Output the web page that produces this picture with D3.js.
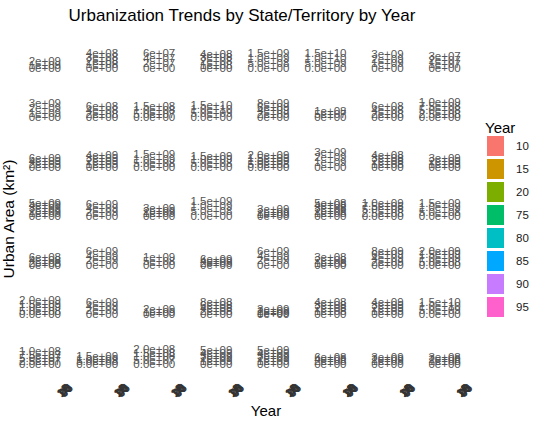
<!DOCTYPE html>
<html>
<head>
<meta charset="utf-8">
<script src="https://cdn.jsdelivr.net/npm/d3@7"></script>
<style>
  body { margin: 0; background: #fff; }
  svg { font-family: "Liberation Sans", Arial, sans-serif; }
</style>
</head>
<body>
<div id="chart"></div>
<script>
// legend / x values
const years = [10, 15, 20, 75, 80, 85, 90, 95];
const yearColors = ["#F8766D", "#CD9600", "#7CAE00", "#00BE67", "#00BFC4", "#00A9FF", "#C77CFF", "#FF61CC"];

// largest urban area per facet (km2), read row by row, 8 facets per row
const peakArea = [
    4.3e9, 4.15e8, 6.2e7, 4.3e8, 1.56e9, 1.56e10, 3.2e9, 3.8e7,
    3.2e9, 8.4e8, 2.1e8, 1.9e10, 8.6e9, 2.3e8, 8.4e8, 1.0e9,
    1.05e10, 5.1e9, 1.9e9, 2.1e9, 2.55e9, 3.2e9, 5.1e8, 5.25e9,
    5.8e9, 7.6e9, 6.0e9, 1.6e9, 7.0e9, 5.8e8, 1.17e9, 1.75e9,
    1.2e9, 6.5e9, 2.0e9, 1.4e10, 6.5e9, 6.0e8, 8.6e9, 2.15e9,
    2.15e9, 7.6e9, 5.6e9, 1.02e9, 8.4e9, 5.1e8, 5.1e9, 1.9e10,
    1.27e8, 3.0e9, 2.15e8, 5.8e9, 5.8e9, 1.4e9, 7.0e9, 7.0e8
];
// top break and break step shown on each facet's y axis
const tickTop = [
    2e9, 4e8, 6e7, 4e8, 1.5e9, 1.5e10, 3e9, 3e7,
    3e9, 6e8, 1.5e8, 1.5e10, 8e9, 1e8, 6e8, 1e9,
    6e9, 4e9, 1.5e9, 1.5e9, 2e9, 3e9, 4e8, 3e9,
    5e9, 6e9, 3e9, 1.5e9, 3e9, 5e8, 1e9, 1.5e9,
    6e8, 6e9, 1e9, 6e9, 6e9, 3e8, 8e9, 2e9,
    2e9, 6e9, 2e9, 8e8, 3e9, 4e8, 4e9, 1.5e10,
    1e8, 1.5e9, 2e8, 5e9, 5e9, 6e8, 3e9, 3e8
];
const tickStep = [
    1e9, 1e8, 2e7, 1e8, 5e8, 5e9, 1e9, 1e7,
    1e9, 2e8, 5e7, 5e9, 2e9, 5e7, 2e8, 2.5e8,
    2e9, 1e9, 5e8, 5e8, 5e8, 1e9, 1e8, 1e9,
    1e9, 2e9, 1e9, 5e8, 1e9, 1e8, 2.5e8, 5e8,
    2e8, 2e9, 5e8, 2e9, 2e9, 1e8, 2e9, 5e8,
    5e8, 2e9, 1e9, 2e8, 1e9, 1e8, 1e9, 5e9,
    2.5e7, 5e8, 5e7, 1e9, 1e9, 2e8, 1e9, 1e8
];

const width = 538, height = 425;
const ncol = 8, nrow = 7;
const colX0 = 63, colStep = 57.1;     // left edge of each tiny panel
const rowY0 = 68, rowStep = 49.25;    // zero line of each panel
const panelH = 15.5, panelW = 4;
const tickFont = "11.5px";

const svg = d3.select("#chart").append("svg")
    .attr("width", width)
    .attr("height", height);

// R style scientific labels, same number of digits for the whole axis
function sciFormat(ticks) {
    let k = 0;
    while (k < 3 && !ticks.every(t => Math.abs(+t.toExponential(k) - t) < 1e-6 * (Math.abs(t) + 1))) k++;
    return t => t.toExponential(k).replace(/e([+-])(\d)$/, "e$10$2");
}

for (let i = 0; i < peakArea.length; i++) {
    const r = Math.floor(i / ncol), c = i % ncol;
    const px = colX0 + c * colStep;
    const zeroY = rowY0 + r * rowStep;

    const y = d3.scaleLinear()
        .domain([0, peakArea[i]])
        .range([zeroY, zeroY - panelH]);
    const ticks = d3.range(0, tickTop[i] + tickStep[i] / 2, tickStep[i]);

    const g = svg.append("g").attr("transform", `translate(${px},0)`);
    g.call(d3.axisLeft(y).tickValues(ticks).tickFormat(sciFormat(ticks)).tickSize(0).tickPadding(2));
    g.select(".domain").remove();
    g.selectAll("text")
        .attr("fill", "#555")
        .style("font-size", tickFont)
        .style("font-family", "'Liberation Sans', Arial, sans-serif");

    // x axis only under the bottom row
    if (r === nrow - 1) {
        const x = d3.scaleBand().domain(years).range([0, panelW]);
        const gx = svg.append("g").attr("transform", `translate(${px + 1},${zeroY + 19.5})`);
        gx.call(d3.axisBottom(x).tickSize(0).tickPadding(0));
        gx.select(".domain").remove();
        gx.selectAll("text")
            .attr("fill", "#333")
            .attr("text-anchor", "end")
            .attr("dy", "0.7em")
            .attr("transform", "rotate(-45)")
            .style("font-size", tickFont)
            .style("font-family", "'Liberation Sans', Arial, sans-serif");
    }
}

// titles
svg.append("text")
    .attr("x", 242).attr("y", 21)
    .attr("text-anchor", "middle")
    .style("font-size", "17px")
    .text("Urbanization Trends by State/Territory by Year");

svg.append("text")
    .attr("x", 266).attr("y", 416)
    .attr("text-anchor", "middle")
    .style("font-size", "15px")
    .text("Year");

svg.append("text")
    .attr("transform", "translate(14,219) rotate(-90)")
    .attr("text-anchor", "middle")
    .style("font-size", "15.5px")
    .text("Urban Area (km²)");

// legend
const legend = svg.append("g").attr("transform", "translate(487,0)");
legend.append("text")
    .attr("x", -2).attr("y", 133)
    .style("font-size", "15px")
    .text("Year");
const key = legend.selectAll("g.key")
    .data(years)
    .join("g")
    .attr("class", "key")
    .attr("transform", (d, i) => `translate(0,${136 + i * 23})`);
key.append("rect")
    .attr("width", 17).attr("height", 20)
    .attr("fill", (d, i) => yearColors[i]);
key.append("text")
    .attr("x", 29).attr("y", 10)
    .attr("dy", "0.35em")
    .style("font-size", "11.5px")
    .attr("fill", "#1a1a1a")
    .text(d => d);
</script>
</body>
</html>
